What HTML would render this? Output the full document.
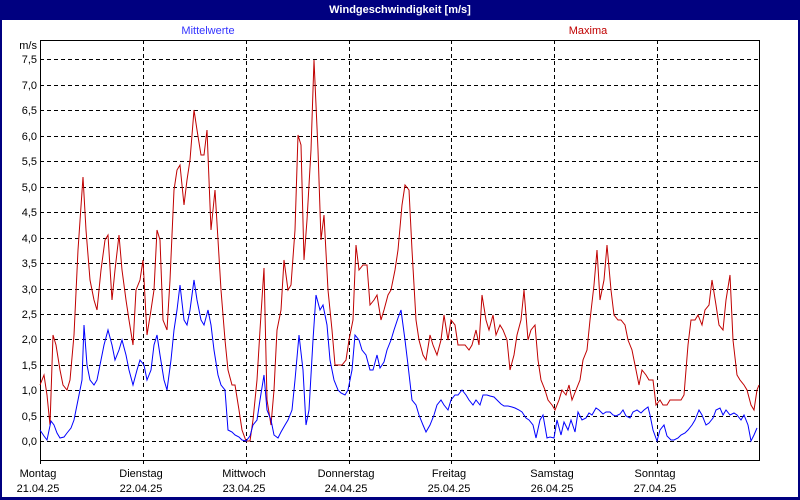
<!DOCTYPE html>
<html><head><meta charset="utf-8"><style>
body{margin:0;width:800px;height:500px;overflow:hidden;background:#fff}
svg{display:block}
text{font-family:"Liberation Sans",sans-serif;font-size:11px}
</style></head><body>
<svg width="800" height="500" xmlns="http://www.w3.org/2000/svg">
<rect x="0" y="0" width="800" height="500" fill="#000080"/>
<rect x="2" y="20" width="796" height="477" fill="#fff"/>
<text x="400" y="13" fill="#fff" text-anchor="middle" font-weight="bold" style="font-size:11px">Windgeschwindigkeit [m/s]</text>
<text x="208" y="34" fill="#3333ff" text-anchor="middle">Mittelwerte</text>
<text x="588" y="34" fill="#c00000" text-anchor="middle">Maxima</text>
<g stroke="#000" stroke-width="1" stroke-dasharray="4,3" fill="none">
<path d="M40 59.5H760M40 85.5H760M40 110.5H760M40 136.5H760M40 161.5H760M40 187.5H760M40 212.5H760M40 238.5H760M40 263.5H760M40 289.5H760M40 314.5H760M40 339.5H760M40 365.5H760M40 390.5H760M40 416.5H760M40 441.5H760"/>
<path d="M143.5 40V466M246.5 40V466M349.5 40V466M451.5 40V466M554.5 40V466M657.5 40V466M40.5 460V466"/>
</g>
<rect x="40.5" y="40.5" width="719" height="420" fill="none" stroke="#000"/>
<g fill="#000" text-anchor="end">
<text x="37" y="49">m/s</text>
<text x="37" y="63">7,5</text><text x="37" y="89">7,0</text><text x="37" y="114">6,5</text><text x="37" y="140">6,0</text><text x="37" y="165">5,5</text><text x="37" y="191">5,0</text><text x="37" y="216">4,5</text><text x="37" y="242">4,0</text><text x="37" y="267">3,5</text><text x="37" y="293">3,0</text><text x="37" y="318">2,5</text><text x="37" y="343">2,0</text><text x="37" y="369">1,5</text><text x="37" y="394">1,0</text><text x="37" y="420">0,5</text><text x="37" y="445">0,0</text>
</g>
<g fill="#000" text-anchor="middle">
<text x="38" y="477">Montag</text><text x="38" y="492">21.04.25</text>
<text x="141" y="477">Dienstag</text><text x="141" y="492">22.04.25</text>
<text x="244" y="477">Mittwoch</text><text x="244" y="492">23.04.25</text>
<text x="346" y="477">Donnerstag</text><text x="346" y="492">24.04.25</text>
<text x="449" y="477">Freitag</text><text x="449" y="492">25.04.25</text>
<text x="552" y="477">Samstag</text><text x="552" y="492">26.04.25</text>
<text x="655" y="477">Sonntag</text><text x="655" y="492">27.04.25</text>
</g>
<polyline fill="none" stroke="#c00000" stroke-width="1" points="40,385 44,375 47,395 50,425 53,335 56,345 60,370 63,385 67,390 70,380 74,335 78,250 83,177 86,230 90,280 94,300 97,310 101,270 105,240 108,235 112,300 115,270 119,235 122,270 126,300 129,320 133,345 136,290 140,280 143,260 147,335 151,310 154,290 157,230 160,240 163,320 167,330 170,280 174,190 177,170 180,165 184,205 187,180 190,160 194,110 197,130 201,155 204,155 207,130 211,230 215,190 218,240 221,290 225,340 228,370 232,385 235,385 239,410 242,430 246,441 250,441 253,420 257,380 260,330 264,268 267,400 271,425 274,390 277,330 281,310 284,260 288,290 291,285 295,230 298,135 301,145 304,260 307,220 311,150 314,60 318,150 321,240 324,215 328,290 332,330 335,365 339,365 342,365 346,360 349,340 353,320 356,245 359,270 363,265 367,265 370,305 374,300 377,295 381,320 384,310 388,295 391,290 395,270 398,250 402,205 405,185 409,190 412,250 416,320 419,340 423,355 426,360 430,335 433,345 437,355 441,340 444,315 448,340 451,320 455,325 458,345 462,345 465,345 469,350 472,345 476,330 479,345 482,295 486,320 489,330 493,315 496,335 500,325 503,330 507,340 510,370 514,355 517,335 521,320 524,290 528,340 531,330 535,325 538,360 541,380 545,390 548,400 552,405 555,410 559,400 562,390 566,395 569,385 572,400 576,390 580,380 583,360 587,350 590,320 594,285 597,250 600,300 604,280 607,245 611,290 614,315 618,320 621,320 625,325 628,340 632,350 635,365 639,385 642,370 646,375 649,380 653,380 656,405 660,400 663,405 667,405 670,400 674,400 677,400 681,400 684,395 688,345 691,320 695,320 698,315 702,325 705,310 709,305 712,280 716,305 719,325 723,330 726,300 730,275 733,340 737,375 740,380 744,385 747,390 751,405 754,410 757,390 759,385"/>
<polyline fill="none" stroke="#0000ff" stroke-width="1" points="40,430 44,436 47,440 51,421 54,425 57,433 60,438 64,437 67,433 71,428 74,420 78,400 82,380 84,325 87,365 90,380 94,385 97,380 101,360 104,345 108,330 112,345 115,360 119,350 122,340 126,355 129,370 133,385 137,370 140,360 144,365 147,380 151,370 154,345 157,335 160,355 164,380 167,390 171,360 174,330 177,310 180,285 184,320 187,325 190,310 194,280 197,300 201,320 204,325 208,310 211,325 214,350 218,375 221,385 225,390 228,430 232,432 235,435 239,437 242,440 246,441 250,436 253,425 257,420 260,400 264,375 267,410 271,420 274,435 278,438 281,432 285,425 288,420 292,410 295,380 299,335 303,370 306,425 309,410 313,340 316,295 320,310 323,305 327,325 330,360 334,380 338,390 341,393 345,395 348,390 352,370 355,335 359,340 362,350 366,355 370,370 373,370 377,355 380,368 384,362 387,350 391,340 394,330 398,318 401,310 405,340 408,365 412,400 416,405 419,415 423,425 426,432 430,425 434,415 437,405 441,400 444,405 448,410 451,400 455,395 458,395 462,390 466,395 469,400 473,405 476,400 480,405 483,395 487,395 490,396 494,397 497,400 501,404 504,406 508,406 512,407 515,408 519,410 522,412 526,418 529,420 533,425 536,438 540,420 543,415 547,438 550,437 554,438 557,420 561,435 564,422 568,430 571,420 575,432 578,412 582,420 586,418 589,413 592,415 596,408 599,410 603,414 606,412 610,412 613,415 616,416 620,414 623,410 626,416 630,418 633,412 637,410 641,413 644,410 648,407 650,415 653,430 657,441 660,430 664,425 667,436 671,440 674,440 678,438 681,435 685,433 688,430 692,425 695,420 699,410 702,415 706,425 709,423 713,418 716,410 720,408 723,415 726,410 730,415 734,413 737,415 741,420 744,415 748,425 751,441 754,435 757,428"/>
</svg>
</body></html>
